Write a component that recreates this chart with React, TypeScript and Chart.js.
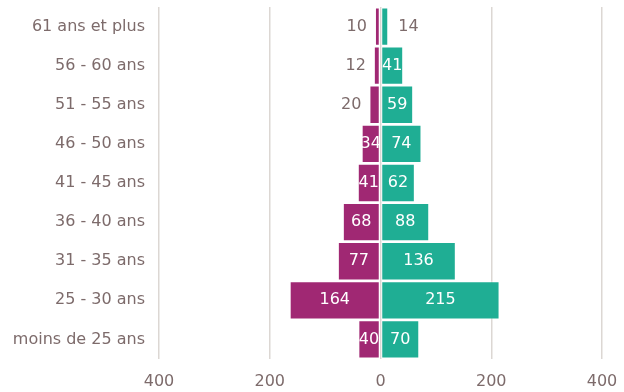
import React, { useEffect, useRef } from "react";
import { Chart, registerables } from "chart.js";

Chart.register(...registerables);

const categories = [
  "61 ans et plus",
  "56 - 60 ans",
  "51 - 55 ans",
  "46 - 50 ans",
  "41 - 45 ans",
  "36 - 40 ans",
  "31 - 35 ans",
  "25 - 30 ans",
  "moins de 25 ans",
];
const femmes = [10, 12, 20, 34, 41, 68, 77, 164, 40];
const hommes = [14, 41, 59, 74, 62, 88, 136, 215, 70];
const xTicks = [-400, -200, 0, 200, 400];

const TEXT = "#7d6b6b";
const FONT = "DejaVu Sans, Verdana, sans-serif";

const labelPlugin = {
  id: "barLabels",
  afterDatasetsDraw(chart: any) {
    const ctx = chart.ctx;
    ctx.save();
    ctx.font = `16px ${FONT}`;
    ctx.textBaseline = "middle";
    chart.data.datasets.forEach((ds: any, di: number) => {
      const meta = chart.getDatasetMeta(di);
      meta.data.forEach((el: any, i: number) => {
        const v = Math.abs(ds.data[i]);
        const txt = String(v);
        const tw = ctx.measureText(txt).width;
        const left = Math.min(el.x, el.base);
        const right = Math.max(el.x, el.base);
        const bw = right - left;
        const neg = ds.data[i] < 0;
        if (tw > bw + 4) {
          ctx.fillStyle = TEXT;
          if (neg) {
            ctx.textAlign = "right";
            ctx.fillText(txt, left - 8, el.y);
          } else {
            ctx.textAlign = "left";
            ctx.fillText(txt, right + 10, el.y);
          }
        } else {
          ctx.fillStyle = "#ffffff";
          ctx.textAlign = "center";
          ctx.fillText(txt, (left + right) / 2, el.y);
        }
      });
    });
    ctx.restore();
  },
};

export default function App() {
  const ref = useRef<HTMLCanvasElement>(null);
  useEffect(() => {
    if (!ref.current) return;
    const chart = new Chart(ref.current, {
      type: "bar",
      data: {
        labels: categories,
        datasets: [
          {
            label: "Femmes",
            data: femmes.map((v) => -v),
            backgroundColor: "#a02873",
            borderColor: "rgba(255,255,255,0.55)",
            borderWidth: 1,
            borderSkipped: false,
            barPercentage: 0.98,
            categoryPercentage: 1,
          },
          {
            label: "Hommes",
            data: hommes,
            backgroundColor: "#1fae94",
            borderColor: "rgba(255,255,255,0.55)",
            borderWidth: 1,
            borderSkipped: false,
            barPercentage: 0.98,
            categoryPercentage: 1,
          },
        ],
      },
      options: {
        indexAxis: "y",
        animation: false,
        responsive: false,
        maintainAspectRatio: false,
        layout: { padding: { left: 0, right: 22, top: 7, bottom: 0 } },
        plugins: {
          legend: { display: false },
          tooltip: { enabled: false },
        },
        scales: {
          x: {
            stacked: true,
            min: -400,
            max: 400,
            afterBuildTicks: (axis: any) => {
              axis.ticks = xTicks.map((v) => ({ value: v }));
            },
            afterFit: (scale: any) => {
              scale.paddingLeft = 0;
              scale.paddingRight = 0;
              scale.height = 33;
            },
            grid: {
              color: "#dcd7d3",
              lineWidth: 1.5,
              drawTicks: false,
            },
            border: { display: false },
            ticks: {
              color: TEXT,
              font: { family: FONT, size: 16 },
              padding: 13,
              callback: (v: any) => String(Math.abs(Number(v))),
              maxRotation: 0,
            },
          },
          y: {
            stacked: true,
            afterFit: (scale: any) => {
              scale.paddingTop = 0;
              scale.paddingBottom = 0;
              scale.width = 159;
            },
            grid: { display: false, drawTicks: false },
            border: { display: false },
            ticks: {
              color: TEXT,
              font: { family: FONT, size: 16 },
              padding: 14,
            },
          },
        },
      },
      plugins: [labelPlugin],
    } as any);
    return () => chart.destroy();
  }, []);
  return (
    <div style={{ position: "fixed", left: 0, top: 0, width: 624, height: 392, background: "#fff" }}>
      <canvas ref={ref} width={624} height={392} style={{ width: 624, height: 392 }} />
    </div>
  );
}
